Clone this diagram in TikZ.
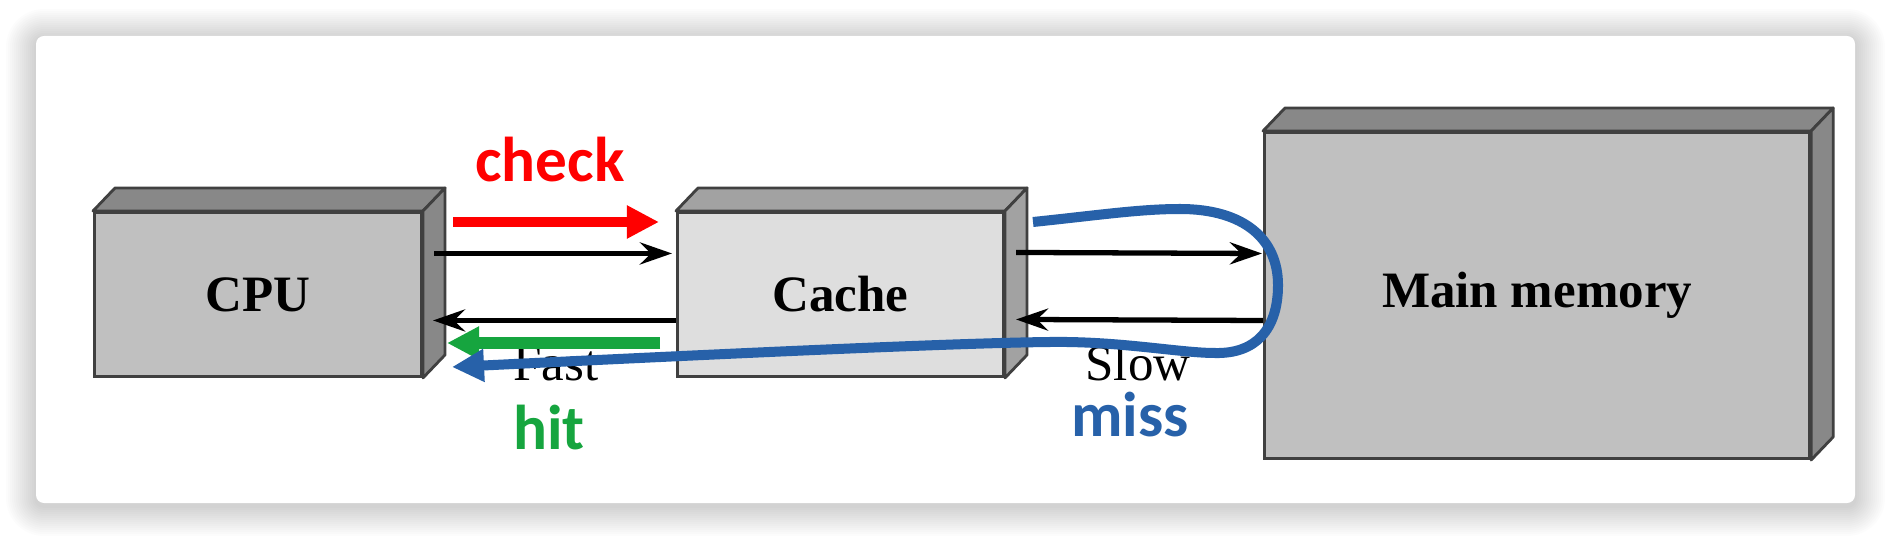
\documentclass[tikz,border=0pt]{standalone}
\usepackage{fontspec}
\setmainfont{Liberation Serif}
\newfontfamily\labelfont{Carlito}
\usetikzlibrary{arrows.meta, calc, positioning}

\definecolor{frontA}{HTML}{C0C0C0}
\definecolor{sideA}{HTML}{888888}
\definecolor{frontB}{HTML}{DEDEDE}
\definecolor{sideB}{HTML}{A2A2A2}
\definecolor{chkred}{HTML}{FF0000}
\definecolor{hitgreen}{HTML}{16A53F}
\definecolor{missblue}{HTML}{2761A9}

\begin{document}
\begin{tikzpicture}[
    % One unit = one pixel of the original image, y grows downwards
    x={(0.01cm,0cm)},
    y={(0cm,-0.01cm)},
    front/.style={draw=black!75, line width=0.8pt, inner sep=0pt, anchor=north west,
        font=\fontsize{14.5}{17}\selectfont\bfseries},
    face/.style={draw=black!75, line width=0.8pt, line join=round},
    conn/.style={-{Stealth[length=3.2mm, width=2.2mm, inset=1.1mm]}, line width=1.5pt},
    speed/.style={font=\fontsize{14.5}{17}\selectfont, anchor=base},
    tag/.style={font=\fontsize{18}{21}\selectfont\labelfont\bfseries, anchor=base},
    fat/.style={-{Triangle[length=0.32cm, width=0.31cm]}, line width=0.1cm}
]
    \useasboundingbox (0,0) rectangle (1892,540);

    % --- Card and its shadow ---
    \fill[white] (0,0) rectangle (1892,540);
    \foreach \r [evaluate=\r as \rc using 0.08+0.02*\r] in {1,...,15}
        \fill[black, opacity=0.011, rounded corners=\rc cm]
            (36-2*\r, 39-2*\r) rectangle (1855+2*\r, 506+2*\r);
    \fill[white, rounded corners=0.08cm] (36,36) rectangle (1855,503);

    % --- Front faces ---
    \node[front, fill=frontA, minimum width=3.27cm, minimum height=1.64cm] (cpu) at (93,211) {CPU};
    \node[front, fill=frontB, minimum width=3.26cm, minimum height=1.64cm] (cache) at (676,211) {Cache};
    \node[front, fill=frontA, minimum width=5.45cm, minimum height=3.26cm] (mem) at (1263,131) {Main memory};

    % --- Top and side faces ---
    \foreach \n/\c in {cpu/sideA, cache/sideB, mem/sideA} {
        \filldraw[face, fill=\c] (\n.north west) -- ++(22,-23)
            -- ([shift={(22,-23)}]\n.north east) -- (\n.north east) -- cycle;
        \filldraw[face, fill=\c] (\n.north east) -- ++(22,-23)
            -- ([shift={(22,-23)}]\n.south east) -- (\n.south east) -- cycle;
    }

    % --- Data paths ---
    \draw[conn] ([shift={(11,-41)}]cpu.east) -- ([shift={(-4,-41)}]cache.west);
    \draw[conn] ([shift={(0,26)}]cache.west) -- ([shift={(10,26)}]cpu.east);
    \draw[conn] ([shift={(11,-42)}]cache.east) -- ([shift={(-1,-42)}]mem.west);
    \draw[conn] ([shift={(0,25)}]mem.west) -- ([shift={(11,25)}]cache.east);

    \node[speed] (fast) at (556,380) {Fast};
    \node[speed] (slow) at (1138,380) {Slow};

    % --- Annotations ---
    \node[tag, text=chkred] (check) at (550,182) {check};
    \node[tag, text=hitgreen] (hit) at (549,449) {hit};
    \node[tag, text=missblue] (miss) at (1130,436) {miss};

    \coordinate (chk-a) at (453,222);
    \coordinate (chk-b) at (659,222);
    \draw[fat, chkred] (chk-a) -- (chk-b);

    \coordinate (hit-a) at (660,343);
    \coordinate (hit-b) at (447,343);
    \draw[fat, hitgreen, line width=0.11cm] (hit-a) -- (hit-b);

    % miss: round trip to main memory and back to the CPU
    \coordinate (miss-a) at (1033,222);
    \coordinate (miss-b) at (452,367);
    \draw[fat, missblue, line width=0.1cm]
        (miss-a) .. controls (1100,215) and (1140,209) .. (1180,209)
        .. controls (1245,209) and (1278,240) .. (1278,285)
        .. controls (1278,330) and (1255,354) .. (1215,353)
        .. controls (1180,353) and (1120,341) .. (1050,342)
        .. controls (950,343) and (700,355) .. (miss-b);
\end{tikzpicture}
\end{document}
